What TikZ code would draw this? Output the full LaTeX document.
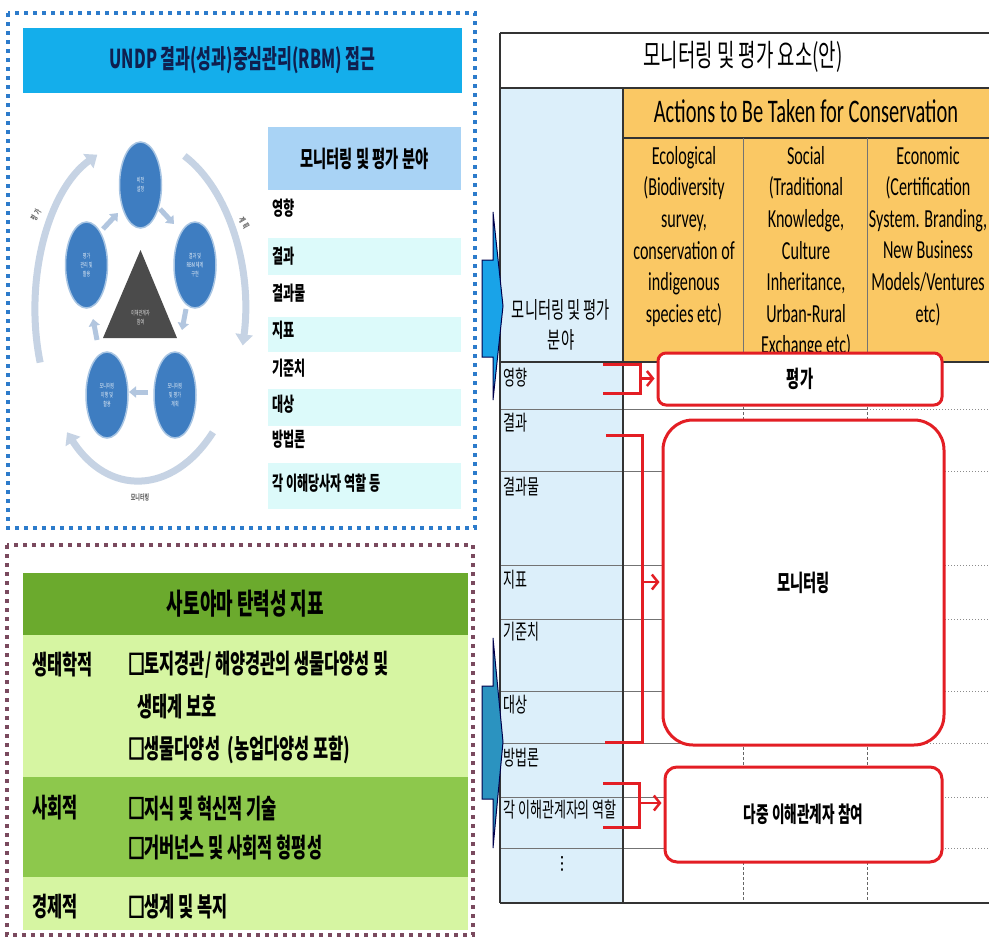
\documentclass[tikz,border=0pt]{standalone}
\usepackage{fontspec}
\usetikzlibrary{arrows.meta,shapes.geometric}
\newfontfamily\kr[FakeStretch=0.62]{Noto Sans CJK KR}
\newfontfamily\krbox[FakeStretch=0.62,FakeBold=4]{Noto Sans CJK KR}
\newfontfamily\lat[FakeStretch=0.62]{Carlito}
\newfontfamily\dv{DejaVu Sans}
\newcommand\myfs[2]{\fontsize{#1}{#2}\selectfont}
\newcommand\bx{{\krbox □}}
\definecolor{frblue}{HTML}{2C7BCB}
\definecolor{frbrown}{HTML}{7A4A5E}
\definecolor{ttlblue}{HTML}{14AEEB}
\definecolor{hdrblue}{HTML}{A9D3F5}
\definecolor{band}{HTML}{DCFAFA}
\definecolor{circ}{HTML}{3E7DC1}
\definecolor{tri}{HTML}{4B4B4B}
\definecolor{arcc}{HTML}{C6D3E4}
\definecolor{grn}{HTML}{6BAA2D}
\definecolor{lgrn}{HTML}{D6F5A2}
\definecolor{mgrn}{HTML}{8DC84C}
\definecolor{orng}{HTML}{FAC864}
\definecolor{lcol}{HTML}{DCEFFA}
\definecolor{rd}{HTML}{E31E24}
\definecolor{arra}{HTML}{19A3E8}
\definecolor{arrb}{HTML}{2B93C0}
\definecolor{navy}{HTML}{0F1F4F}
\begin{document}
\begin{tikzpicture}[x=1pt,y=-1pt,
  kt/.style={inner sep=0pt, anchor=west},
  frameb/.style={draw=frblue, line width=4pt, dash pattern=on 4pt off 5pt},
  framer/.style={draw=frbrown, line width=4pt, dash pattern=on 4pt off 5pt},
  redbox/.style={draw=rd, line width=3pt, fill=white, inner sep=0pt},
  redln/.style={draw=rd, line width=3pt},
  redarr/.style={draw=rd, line width=2.5pt, -{Straight Barb[length=6pt,width=15pt]}},
  tline/.style={draw=black!80, line width=1.3pt},
  gline/.style={draw=black!55, line width=1pt},
  dline/.style={draw=black!45, line width=1pt, dotted},
  vdash/.style={draw=black!60, line width=0.8pt, dash pattern=on 3pt off 2pt},
  bub/.style={ellipse, fill=circ, draw=circ!45, line width=1.5pt, minimum width=42pt, minimum height=86pt, inner sep=0pt, text=white!85!circ, font=\kr\myfs{6.5}{9}, align=center},
  arcsty/.style={draw=arcc, line width=7pt, -{Triangle[width=17pt,length=11pt]}},
  smarr/.style={draw=arcc!85!circ, line width=5pt, -{Triangle[width=11pt,length=7pt]}},
  bluearr/.style={draw=black!70!blue, line width=1pt}
]
\useasboundingbox (0,0) rectangle (989,940);
\fill[white] (0,0) rectangle (989,940);

% ================= top-left panel =================
\node[fill=ttlblue, minimum width=439pt, minimum height=65pt, inner sep=0pt, text=navy, font=\kr\bfseries\myfs{26}{30}] (ttl1) at (242.5,60.5) {UNDP 결과(성과)중심관리(RBM) 접근};

% circle diagram
\draw[arcsty] (140,310) ++(162:105 and 170) arc[start angle=162, end angle=246, x radius=105, y radius=170];
\draw[arcsty] (140,310) ++(295:105 and 170) arc[start angle=295, end angle=372, x radius=105, y radius=170];
\draw[arcsty] (140,310) ++(46:105 and 170) arc[start angle=46, end angle=134, x radius=105, y radius=170];

\node[bub] (c1) at (140.5,185) {비전\\설정};
\node[bub] (c2) at (195,265) {결과 및\\RBM 체계\\구현};
\node[bub] (c3) at (175,395) {모니터링\\및 평가\\계획};
\node[bub] (c4) at (107,395) {모니터링\\이행 및\\활용};
\node[bub] (c5) at (86.5,265) {평가\\관리 및\\활용};
\fill[tri] (140.5,250) -- (177,338) -- (103,338) -- cycle;
\node[inner sep=0pt, text=white!80!tri, font=\kr\myfs{6.5}{9}, align=center] (trt) at (140.5,318) {이해관계자\\참여};

\draw[smarr] (103,229) -- (118,213);
\draw[smarr] (160,209) -- (174,224);
\draw[smarr] (186,309) -- (182,330);
\draw[smarr] (148,392) -- (129,392);
\draw[smarr] (97,340) -- (93,319);

\node[inner sep=0pt, rotate=60, text=black!60, font=\kr\bfseries\myfs{8}{9}] (lbe) at (36,215) {평\hspace{2.5pt}가};
\node[inner sep=0pt, rotate=-60, text=black!60, font=\kr\bfseries\myfs{8}{9}] (lbp) at (244,223) {계\hspace{2.5pt}획};
\node[inner sep=0pt, text=black!60, font=\kr\bfseries\myfs{8}{9}] (lbm) at (140,498) {모니터링};

% field table
\node[fill=hdrblue, minimum width=193pt, minimum height=63pt, inner sep=0pt, font=\kr\bfseries\myfs{23}{26}] (fh) at (364.5,158.5) {모니터링 및 평가 분야};
\fill[band] (268,238) rectangle (461,275);
\fill[band] (268,317) rectangle (461,352);
\fill[band] (268,389) rectangle (461,426);
\fill[band] (268,463) rectangle (461,509);
\begin{scope}[every node/.style={kt, font=\kr\bfseries\myfs{19.5}{22}}]
\node (f1) at (272,208) {영향};
\node (f2) at (272,256) {결과};
\node (f3) at (272,293) {결과물};
\node (f4) at (272,330) {지표};
\node (f5) at (272,368) {기준치};
\node (f6) at (272,404) {대상};
\node (f7) at (272,439) {방법론};
\node (f8) at (272,483) {각 이해당사자 역할 등};
\end{scope}
\draw[frameb] (8,13) rectangle (475,528);

% ================= bottom-left panel =================
\fill[lgrn] (23,635) rectangle (468,777);
\fill[mgrn] (23,777) rectangle (468,877);
\fill[lgrn] (23,877) rectangle (468,930);
\node[fill=grn, minimum width=445pt, minimum height=62pt, inner sep=0pt, font=\kr\bfseries\myfs{29}{32}] (ttl2) at (245.5,604) {사토야마 탄력성 지표};
\begin{scope}[every node/.style={kt, font=\kr\bfseries\myfs{26.5}{30}}]
\node (s1) at (32,665) {생태학적};
\node (s1a) at (128,665) {\bx 토지경관/ 해양경관의 생물다양성 및};
\node (s1b) at (137,707) {생태계 보호};
\node (s1c) at (128,750) {\bx 생물다양성\ \ (농업다양성 포함)};
\node (s2) at (32,808) {사회적};
\node (s2a) at (128,808) {\bx 지식 및 혁신적 기술};
\node (s2b) at (128,848) {\bx 거버넌스 및 사회적 형평성};
\node (s3) at (32,907) {경제적};
\node (s3a) at (128,907) {\bx 생계 및 복지};
\end{scope}
\draw[framer] (7,545) rectangle (473,935);

% ================= right table =================
\fill[lcol] (500,88) rectangle (623,903);
\fill[orng] (623,88) rectangle (989,362);
\foreach \yy in {409,471,565,619,691,743,797,848} {
  \draw[gline] (500,\yy) -- (867,\yy);
  \draw[dline] (867,\yy) -- (989,\yy);
}
\draw[vdash] (743,362) -- (743,903);
\draw[vdash] (867,362) -- (867,903);
\draw[tline] (500,33) -- (989,33);
\draw[tline] (500,88) -- (989,88);
\draw[tline] (500,33) -- (500,903);
\draw[tline] (623,88) -- (623,903);
\draw[tline] (623,138) -- (989,138);
\draw[gline] (743,138) -- (743,362);
\draw[gline] (867,138) -- (867,362);
\draw[tline] (500,362) -- (989,362);
\draw[tline] (500,903) -- (989,903);

\node[inner sep=0pt, font=\kr\myfs{30.5}{34}] (rt) at (743,57) {모니터링 및 평가 요소(안)};
\node[inner sep=0pt, font=\lat\myfs{33}{36}] (act) at (806,111) {Actions to Be Taken for Conservation};
\begin{scope}[every node/.style={inner sep=0pt, anchor=north, align=center, font=\lat\myfs{26}{31.6}}]
\node (ec1) at (684,146) {Ecological\\(Biodiversity\\survey,\\conservation of\\indigenous\\species etc)};
\node (ec2) at (806,146) {Social\\(Traditional\\Knowledge,\\Culture\\Inheritance,\\Urban-Rural\\Exchange etc)};
\node (ec3) at (928,146) {Economic\\(Certification\\System. Branding,\\New Business\\Models/Ventures\\etc)};
\end{scope}
\node[inner sep=0pt, align=center, font=\kr\myfs{23}{30}] (lh) at (561,325) {모니터링 및 평가\\분야};
\begin{scope}[every node/.style={kt, font=\kr\myfs{21}{24}}]
\node (r1) at (503,378) {영향};
\node (r2) at (503,423) {결과};
\node (r3) at (503,487) {결과물};
\node (r4) at (503,580) {지표};
\node (r5) at (503,632) {기준치};
\node (r6) at (503,705) {대상};
\node (r7) at (503,758) {방법론};
\node (r8) at (503,810) {각 이해관계자의 역할};
\end{scope}
\node[inner sep=0pt, font=\dv\myfs{18}{20}] (r9) at (562,864) {⋮};

% red boxes
\node[redbox, rounded corners=8pt, minimum width=284pt, minimum height=52pt, font=\kr\bfseries\myfs{23}{26}] (pg) at (800,379) {평가};
\node[redbox, rounded corners=30pt, minimum width=281pt, minimum height=325pt, font=\kr\bfseries\myfs{23}{26}] (mon) at (803.5,582.5) {모니터링};
\node[redbox, rounded corners=12pt, minimum width=277pt, minimum height=95pt, font=\kr\bfseries\myfs{22}{26}] (stk) at (803.5,814.5) {다중 이해관계자 참여};

% brackets
\coordinate (b1s) at (603,364); \coordinate (b1e) at (603,393); \coordinate (b1m) at (640,378.5);
\draw[redln] (b1s) -| (b1m) |- (b1e);
\draw[redarr] (b1m) -- ([xshift=-2pt]pg.west |- b1m);
\coordinate (b2s) at (606,435); \coordinate (b2e) at (605,742); \coordinate (b2m) at (642,582);
\draw[redln] (b2s) -| (b2m) |- (b2e);
\draw[redarr] (b2m) -- ([xshift=-2pt]mon.west |- b2m);
\coordinate (b3s) at (603,783); \coordinate (b3e) at (603,827); \coordinate (b3m) at (639,803);
\draw[redln] (b3s) -| (b3m) |- (b3e);
\draw[redarr] (b3m) -- ([xshift=-2pt]stk.west |- b3m);

% blue block arrows
\draw[bluearr, fill=arra] (482,260) -- (493,260) -- (493,212) -- (503,306) -- (493,400) -- (493,357) -- (482,357) -- cycle;
\draw[bluearr, fill=arrb] (482,686) -- (493,686) -- (493,638) -- (503,742) -- (493,848) -- (493,799) -- (482,799) -- cycle;
\end{tikzpicture}
\end{document}
